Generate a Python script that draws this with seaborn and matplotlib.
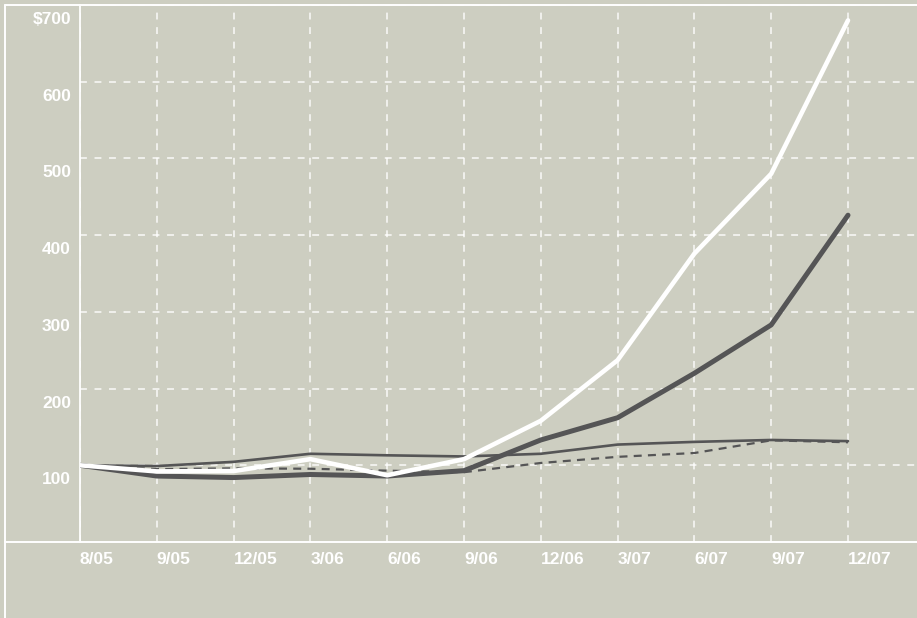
"""Cumulative value chart: four series indexed to 100, 8/05 to 12/07."""

import matplotlib
matplotlib.use("Agg")
import matplotlib.pyplot as plt
import matplotlib.transforms as mtransforms
from matplotlib.lines import Line2D
import pandas as pd
import seaborn as sns

dates = ["8/05", "9/05", "12/05", "3/06", "6/06", "9/06",
         "12/06", "3/07", "6/07", "9/07", "12/07"]
white_vals = [100, 92, 92.5, 108, 87, 108, 158, 237, 376, 480, 680]
dark_thick_vals = [100, 86, 84, 88, 86, 93, 133, 162, 220, 283, 426]
dark_thin_vals = [100, 99, 104.5, 115, 113, 111.5, 115, 127, 130.5, 133, 131.5]
dark_dash_vals = [100, 95, 96, 95.5, 93, 91, 103, 111, 116, 132.5, 130]
ytick_vals = [100, 200, 300, 400, 500, 600, 700]
ytick_labels = ["100", "200", "300", "400", "500", "600", "$700"]

BG = "#cdcec1"
DARK = "#555556"

dfrm = pd.DataFrame({"pos": range(len(dates)), "date": dates,
                     "white": white_vals, "thick": dark_thick_vals,
                     "thin": dark_thin_vals, "dash": dark_dash_vals})

sns.set_theme(style="white", rc={"figure.facecolor": BG, "axes.facecolor": BG})
plt.rcParams["font.family"] = ["Liberation Sans", "DejaVu Sans"]

fig = plt.figure(figsize=(9.17, 6.18), dpi=100)
W, H = 917, 618
ax = fig.add_axes([80 / W, (H - 542) / H, (W - 80) / W, (542 - 5) / H])

# series, bottom to top
sns.lineplot(data=dfrm, x="pos", y="dash", ax=ax, color=DARK, linewidth=1.6,
             linestyle=(0, (3.6, 2.8)), zorder=3)
sns.lineplot(data=dfrm, x="pos", y="thin", ax=ax, color=DARK, linewidth=1.9, zorder=4)
sns.lineplot(data=dfrm, x="pos", y="thick", ax=ax, color=DARK, linewidth=3.6,
             solid_capstyle="round", zorder=5)
sns.lineplot(data=dfrm, x="pos", y="white", ax=ax, color="white", linewidth=3.3,
             solid_capstyle="round", zorder=6)

ax.set_xlim(0, (W - 80) / 76.8)
ax.set_ylim(0, 700)
ax.set_xlabel("")
ax.set_ylabel("")

# grid
ax.set_xticks(dfrm["pos"])
ax.set_xticklabels(dates)
ax.set_yticks(ytick_vals)
ax.set_yticklabels(ytick_labels)
ax.grid(True, color="white", linewidth=1.1, linestyle=(0, (4.5, 5)), alpha=0.9)
ax.tick_params(length=0, labelsize=12.5, labelcolor="white", pad=0)

for lbl in ax.get_xticklabels():
    lbl.set_fontweight("bold")
    lbl.set_horizontalalignment("left")
    lbl.set_transform(lbl.get_transform() +
                      mtransforms.ScaledTranslation(0, -0.10, fig.dpi_scale_trans))
for lbl in ax.get_yticklabels():
    lbl.set_fontweight("bold")
    lbl.set_verticalalignment("top")
    lbl.set_transform(lbl.get_transform() +
                      mtransforms.ScaledTranslation(-0.09, -0.07, fig.dpi_scale_trans))

for side in ["top", "right", "bottom"]:
    ax.spines[side].set_visible(False)
ax.spines["left"].set_color("white")
ax.spines["left"].set_linewidth(1.3)

# outer frame lines
fx = lambda px: px / W
fy = lambda py: 1 - py / H
for xs, ys in [((5, W), (5, 5)), ((5, 5), (5, H)), ((5, W), (542, 542))]:
    fig.add_artist(Line2D([fx(xs[0]), fx(xs[1])], [fy(ys[0]), fy(ys[1])],
                          color="white", linewidth=1.4, transform=fig.transFigure))

fig.savefig("out.png", dpi=100, facecolor=BG)
